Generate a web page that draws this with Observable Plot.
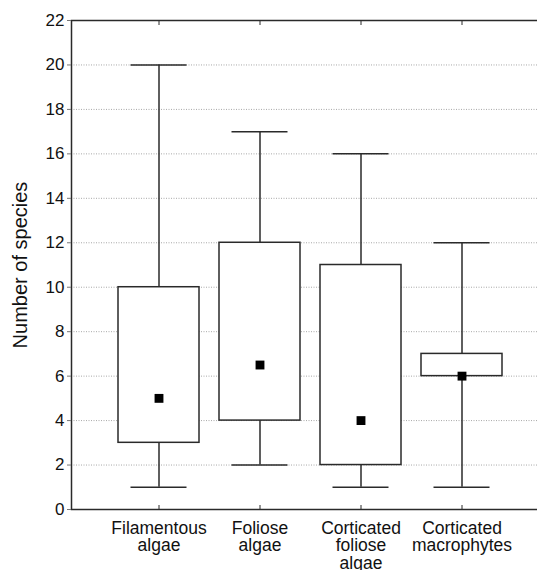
<!DOCTYPE html>
<html>
<head>
<meta charset="utf-8">
<script src="https://cdn.jsdelivr.net/npm/d3@7"></script>
<script src="https://cdn.jsdelivr.net/npm/@observablehq/plot@0.6"></script>
<style>
  html, body { margin: 0; padding: 0; background: #fff; overflow: hidden; }
  #chart { width: 537px; height: 570px; overflow: hidden; }
  #chart svg { display: block; max-width: none !important; }
</style>
</head>
<body>
<div id="chart"></div>
<script>
const categories = ["Filamentous algae", "Foliose algae", "Corticated foliose algae", "Corticated macrophytes"];
const minValues = [1, 2, 1, 1];
const q1Values = [3, 4, 2, 6];
const q3Values = [10, 12, 11, 7];
const maxValues = [20, 17, 16, 12];
const medianValues = [5, 6.5, 4, 6];
const yTicks = [0, 2, 4, 6, 8, 10, 12, 14, 16, 18, 20, 22];
const yLabel = "Number of species";

const rows = categories.map((c, i) => ({
  cat: c, min: minValues[i], q1: q1Values[i], q3: q3Values[i], max: maxValues[i], med: medianValues[i]
}));

const ink = "#2a2a2a";
const font = "'Liberation Sans', Arial, Helvetica, sans-serif";

const chart = Plot.plot({
  width: 548,
  height: 570,
  marginLeft: 71,
  marginRight: 0,
  marginTop: 20,
  marginBottom: 61,
  style: { fontFamily: font, background: "#fff", color: "#111" },
  x: { type: "band", domain: categories, paddingInner: 0.2, paddingOuter: 0.46 },
  y: { domain: [0, 22] },
  marks: [
    Plot.gridY(yTicks, { stroke: "#a8a8a8", strokeOpacity: 1, strokeDasharray: "1,1.5", strokeWidth: 1 }),
    Plot.ruleX(rows, { x: "cat", y1: "min", y2: "q1", stroke: ink, strokeWidth: 1.5 }),
    Plot.ruleX(rows, { x: "cat", y1: "q3", y2: "max", stroke: ink, strokeWidth: 1.5 }),
    Plot.tickY(rows, { x: "cat", y: "min", stroke: ink, strokeWidth: 1.5, insetLeft: 12.5, insetRight: 12.5 }),
    Plot.tickY(rows, { x: "cat", y: "max", stroke: ink, strokeWidth: 1.5, insetLeft: 12.5, insetRight: 12.5 }),
    Plot.barY(rows, { x: "cat", y1: "q1", y2: "q3", fill: "#fff", stroke: ink, strokeWidth: 1.5 }),
    Plot.dot(rows, { x: "cat", y: "med", symbol: "square", r: 5, fill: "#000", stroke: null }),
    Plot.frame({ stroke: ink, strokeWidth: 1.5 }),
    Plot.axisY(yTicks, { anchor: "left", tickSize: 4, tickPadding: 3, fontSize: 17, label: null, stroke: "#777", fill: "#111" }),
    Plot.axisX({ anchor: "bottom", tickSize: -4, tickFormat: () => null, label: null, stroke: ink }),
    Plot.axisX({ anchor: "top", tickSize: -4, tickFormat: () => null, label: null, stroke: ink }),
    Plot.axisX({ anchor: "bottom", tickSize: 0, tickPadding: 12, fontSize: 17.5, lineHeight: 1, label: null, fill: "#111",
      tickFormat: (d) => d.split(" ").join("\n") }),
    Plot.text([yLabel], { frameAnchor: "left", dx: -51, rotate: -90, fontSize: 20, fill: "#111", textAnchor: "middle", lineAnchor: "middle" })
  ]
});
document.getElementById("chart").appendChild(chart);
</script>
</body>
</html>
